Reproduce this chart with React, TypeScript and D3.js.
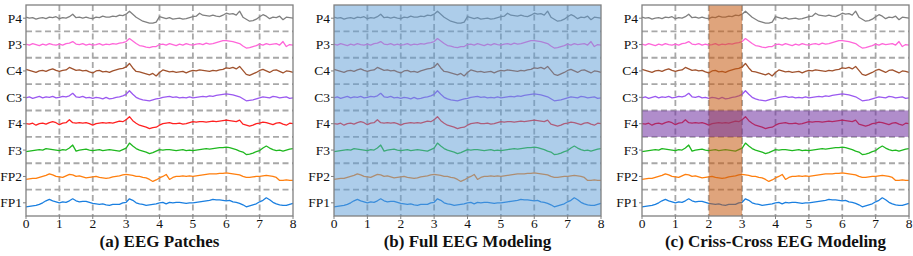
import * as d3 from "d3";
import React from "react";

// channel names, bottom row last
const channels = ["P4", "P3", "C4", "C3", "F4", "F3", "FP2", "FP1"];
const colors = ["#808080", "#ff66d9", "#a0522d", "#9b59f0", "#ff2020", "#1fb81f", "#ff7f0e", "#1a7fe0"];
const xTicks = [0, 1, 2, 3, 4, 5, 6, 7, 8];
const titles = ["(a) EEG Patches", "(b) Full EEG Modeling", "(c) Criss-Cross EEG Modeling"];

// samples every 0.1 s from 0 to 8 s (offset from row centre)
const p4 = [1,0,0.5,-1,0,0.5,-0.5,1,0.5,1.5, -0.5,0.5,0,1.5,4,0.5,1,0,1,0, -0.5,1,0.5,2,1,1,2,1.5,3,2.5, 4,7,4,1,-1,-3,-4,-5,-5,-4, 1.5,0.5,-0.5,0.5,-1,-0.5,0,-1,-0.5,0.5, 1.5,2,5,3,2.5,2,3,2,1.5,3, 5,4,4.5,3,7,1,-1,-3,-2.5,-1, 1.5,3.5,2,-0.5,1,0.5,2,-1.5,1,0.5, 0];
const p3 = [0.5,-0.5,1,0,-1,0.5,-0.5,1,0,-0.5, 0.5,-0.5,1,1.5,3,0.5,0,1,-0.5,0.5, -0.5,0,1,-0.5,0.5,0,1,0.5,1.5,2, 3,6,3.5,1,-1,-1.5,-2.5,-3,-2,-2, 0,0.5,-0.5,1,0,-1,0.5,-0.5,1,0, -0.5,0.5,1,0,1.5,0.5,1,2,3,4, 4,3.5,3,2,1,-1.5,-3.5,-3,-2,-1, 0.5,-0.5,1,0,0.5,1,-0.5,3,-2,0, -0.5];
const c4 = [1.5,0.5,-0.5,-1.5,0,0.5,-0.5,1,2,0.5, -0.5,0.5,1,3.5,2,0.5,1,0,0.5,-1, -2,0,0.5,-1,-0.5,-1.5,0,1,2,2.5, 4,7.5,3,-0.5,-1,-2,-3,-4,-2.5,-5, -1.5,1,0,-1,-0.5,-1.5,-1,-0.5,-2,-0.5, 0.5,0,1,0.5,0,-0.5,0.5,0,1,1.5, 3,2.5,3.5,2,4.5,0.5,-3.5,-4.5,-3,-1.5, 0.5,1.5,0,-1.5,0.5,1,-0.5,-2,0,-0.5, -1.5];
const c3 = [-0.5,0.5,-1,0,1,-0.5,0.5,0,1,-0.5, 0,1,0.5,1.5,4,0.5,0,1,-0.5,0, -1,0,-0.5,-1.5,0,-1.5,-1,0,0.5,1.5, 3,6.5,3,0,-1.5,-2.5,-3,-3.5,-2.5,-1.5, -1,0,0.5,1,0,0.5,-0.5,0,-0.5,0.5, -0.5,0,0.5,1,0.5,1.5,1,2,2.5,3, 3.5,3,2.5,1.5,0.5,-1.5,-3.5,-3,-2.5,-1.5, -0.5,0.5,0,-0.5,1,0.5,-0.5,0,0.5,-1, -0.5];
const f4 = [0,-0.5,0.5,-1.5,0,0.5,-0.5,1,2,1, -1,0.5,1,4,1,0.5,1,0.5,1,0, -1.5,0,0.5,1,0.5,1,0.5,1.5,2.5,2, 4,7,3,0.5,-1.5,-2.5,-3.5,-5,-4,-3.5, -1.5,0,0.5,1,0,0,0.5,-0.5,0,1, 2,1.5,2,2,1.5,2,2.5,2,2.5,3, 3.5,3,2.5,2,3.5,-0.5,-1.5,-2.5,-1.5,0, 0.5,1.5,1,0,-1,0.5,1,-0.5,-1.5,0.5, 0];
const f3 = [-1.5,-1,-0.5,0,0.5,0,1.5,1,0.5,0, -0.5,0.5,0,2,5,-1,0,0.5,1,0, -0.5,0,0.5,-0.5,0,0.5,0,-0.5,-1,0.5, 2,7,4,1.5,0,-1,-2,-3.5,-2.5,-1, 0.5,0,0.5,0.5,0,-0.5,0,0.5,-0.5,0, -0.5,0,0.5,1,1.5,1,1.5,2,2.5,2.5, 3,2.5,1.5,0.5,-1,-2,-4.5,-4,-3,-1.5, -0.5,2,4,2,0.5,-0.5,0,-1,0,1, 1.5];
const fp2 = [-3,-2.5,-2,-2,-1,0,1,2.5,1.5,0, -0.5,-1,0.5,2,1.5,0,0.5,-0.5,-1.5,-1, -0.5,0,-1,-1.5,-2,-1.5,-0.5,0,0.5,1.5, 2,1.5,1,0,0,-1,-1.5,-3,-5,-3.5, -1.5,0,2,-3,-1,0,0,0.5,0,0.5, 0,0.5,1,1.5,2,2.5,2.5,2.5,3,3, 3.5,3,2.5,2,1.5,0,-1,-1,-0.5,0, 0,0.5,1,0.5,0,-1,-4,-4,-3.5,-4, -4];
const fp1 = [-4,-3.5,-3,-2.5,-1.5,0,2,3.5,2,1, 0,1,0.5,2,4,2,1,1.5,1.5,0.5, -0.5,-1,-1.5,-1,-2,-2.5,-1.5,-1.5,-1.5,0, 0.5,4,2.5,0,-1,-1.5,-2.5,-2,-1.5,-1, 0,0.5,-1,0.5,0,0.5,0.5,0,-0.5,0, 0,0.5,1,1.5,2,2.5,3.5,3,3,2.5, 2,2.5,1,0.5,-0.5,-2,-4,-3,-2,-1, 1,2.5,5,3,0.5,-1,-2,-2.5,-2.5,-1.5, -0.5];

const series = [p4, p3, c4, c3, f4, f3, fp2, fp1];

const W = 913;
const H = 256;
const panelX = [26, 334, 642];
const PW = 267;
const TOP = 5;
const PH = 211;
const font = "'Liberation Serif', 'Times New Roman', serif";

function Panel({ idx }: { idx: number }) {
  const x0 = panelX[idx];
  const x = d3.scaleLinear().domain([0, 8]).range([x0, x0 + PW]);
  const band = d3.scaleBand().domain(channels).range([TOP, TOP + PH]).padding(0);
  const bh = band.bandwidth();

  const line = (vals: number[], ch: string) => {
    const yc = d3.scaleLinear().domain([-bh / 2, bh / 2]).range([band(ch)! + bh, band(ch)!]);
    const step = 8 / (vals.length - 1);
    return d3.line<number>()
      .x((_, i) => x(i * step))
      .y((v) => yc(v))(vals) || "";
  };

  const grid = "#a8a8a8";
  return (
    <g>
      {/* vertical dashed grid */}
      {xTicks.slice(1, -1).map((t) => (
        <line key={"v" + t} x1={x(t)} x2={x(t)} y1={TOP} y2={TOP + PH}
          stroke={grid} strokeWidth={1.8} strokeDasharray="6,3.5" />
      ))}
      {/* horizontal row separators */}
      {channels.slice(1).map((ch) => (
        <line key={"h" + ch} x1={x0} x2={x0 + PW} y1={band(ch)} y2={band(ch)}
          stroke={grid} strokeWidth={1.8} strokeDasharray="6,3.5" />
      ))}
      {series.map((vals, i) => (
        <path key={channels[i]} d={line(vals, channels[i])} fill="none"
          stroke={colors[i]} strokeWidth={1.3} strokeLinejoin="round" />
      ))}
      {idx === 1 && (
        <rect x={x0} y={TOP} width={PW} height={PH} fill="#5b9bd5" opacity={0.5} />
      )}
      {idx === 2 && (
        <g>
          <rect x={x(2)} y={TOP} width={x(3) - x(2)} height={PH} fill="#c55a11" opacity={0.55} />
          <rect x={x0} y={band("F4")} width={PW} height={bh} fill="#7030a0" opacity={0.55} />
        </g>
      )}
      <rect x={x0} y={TOP} width={PW} height={PH} fill="none" stroke="#808080" strokeWidth={1.3} />
      {/* x ticks */}
      {xTicks.map((t) => (
        <g key={"t" + t}>
          <line x1={x(t)} x2={x(t)} y1={TOP + PH} y2={TOP + PH + 3} stroke="#808080" />
          <text x={x(t)} y={TOP + PH + 12} textAnchor="middle" fontSize={13.5}
            fontFamily={font} fill="#111">{t}</text>
        </g>
      ))}
      {/* y labels */}
      {channels.map((ch) => (
        <g key={"y" + ch}>
          <line x1={x0 - 3} x2={x0} y1={band(ch)! + bh / 2} y2={band(ch)! + bh / 2} stroke="#808080" />
          <text x={x0 - 4} y={band(ch)! + bh / 2 + 4.5} textAnchor="end" fontSize={13.5}
            fontFamily={font} fill="#111">{ch}</text>
        </g>
      ))}
      <text x={x0 + PW / 2} y={247} textAnchor="middle" fontSize={17} fontWeight="bold"
        fontFamily={font} fill="#111">{titles[idx]}</text>
    </g>
  );
}

export default function App() {
  return (
    <svg width={W} height={H} style={{ position: "absolute", left: 0, top: 0, background: "#fff" }}>
      {[0, 1, 2].map((i) => <Panel key={i} idx={i} />)}
    </svg>
  );
}
